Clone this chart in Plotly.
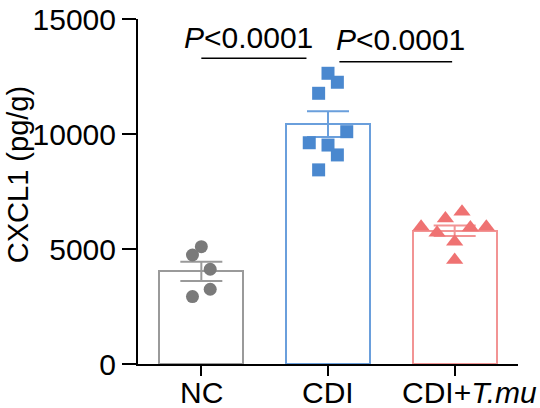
import numpy as np
import plotly.graph_objects as go

# ---- data ----
categories = ["NC", "CDI", "CDI+T.mu"]
tick_labels = ["NC", "CDI", "CDI+<i>T.mu</i>"]
nc_values = [5100, 4740, 4120, 3250, 2930]
cdi_values = [12640, 12250, 11770, 10100, 9620, 9520, 9090, 8440]
tmu_values = [6620, 6330, 5970, 5970, 5940, 5710, 5320, 4520]
y_ticks = [0, 5000, 10000, 15000]
p_labels = ["<i>P</i><0.0001", "<i>P</i><0.0001"]

# ---- layout helpers (positions, not data) ----
nc_jitter = [0.0, -0.07, 0.07, 0.07, -0.07]
cdi_jitter = [0.0, 0.074, -0.074, 0.148, -0.148, 0.0, 0.074, -0.074]
tmu_jitter = [0.058, -0.073, -0.265, 0.25, 0.124, -0.139, 0.0, 0.0]
label_xshift = [0, 0, 15]
bracket_spans = [(0.0, 0.83, 13290), (1.09, 1.98, 13140)]
p_label_pos = [(0.37, 14180), (1.575, 14090)]

groups = [nc_values, cdi_values, tmu_values]
jitters = [nc_jitter, cdi_jitter, tmu_jitter]
bar_colors = ["#9a9a9a", "#6a9fdc", "#f29494"]
pt_colors = ["#7a7a7a", "#4a88cf", "#ef7272"]
symbols = ["circle", "square", "triangle-up"]
sizes = [13, 13, 15]

FONT = "Liberation Sans, Arial, sans-serif"
FS = 30

fig = go.Figure()
for i, (vals, col) in enumerate(zip(groups, bar_colors)):
    v = np.array(vals, dtype=float)
    mean = v.mean()
    sem = v.std(ddof=1) / np.sqrt(len(v))
    fig.add_trace(go.Bar(
        x=[i], y=[mean], width=0.663,
        marker=dict(color="rgba(255,255,255,0)", line=dict(color=col, width=2)),
        error_y=dict(type="data", array=[sem], visible=True, color=col,
                     thickness=2, width=21),
        showlegend=False, hoverinfo="skip",
    ))
for i, (vals, jit) in enumerate(zip(groups, jitters)):
    fig.add_trace(go.Scatter(
        x=[i + j for j in jit], y=vals, mode="markers",
        marker=dict(symbol=symbols[i], size=sizes[i], color=pt_colors[i],
                    line=dict(width=0)),
        showlegend=False, cliponaxis=False,
    ))

for (x0, x1, yv) in bracket_spans:
    fig.add_shape(type="line", xref="x", yref="y", x0=x0, x1=x1, y0=yv, y1=yv,
                  line=dict(color="black", width=1.5))
for (xp, yp), txt in zip(p_label_pos, p_labels):
    fig.add_annotation(x=xp, y=yp, xref="x", yref="y", text=txt, showarrow=False,
                       font=dict(family=FONT, size=FS, color="black"),
                       xanchor="center", yanchor="middle")

# category labels under the axis
for i, (txt, xs) in enumerate(zip(tick_labels, label_xshift)):
    fig.add_annotation(x=i, y=0, xref="x", yref="paper", text=txt, showarrow=False,
                       xshift=xs, yshift=-28,
                       font=dict(family=FONT, size=FS, color="black"),
                       xanchor="center", yanchor="middle")

fig.add_annotation(x=-0.316, y=0.55, xref="paper", yref="paper",
                   text="CXCL1 (pg/g)", textangle=-90, showarrow=False,
                   font=dict(family=FONT, size=29, color="black"),
                   xanchor="center", yanchor="middle", borderpad=0)

fig.update_layout(
    width=540, height=408, autosize=False,
    margin=dict(l=138, r=22, t=19, b=44, pad=0),
    paper_bgcolor="white", plot_bgcolor="white",
    font=dict(family=FONT, size=FS, color="black"),
    xaxis=dict(range=[-0.5, 2.5], tickmode="array", tickvals=[0, 1, 2],
               showticklabels=False, showline=True, linecolor="black", linewidth=2,
               ticks="outside", ticklen=10, tickwidth=2, tickcolor="black",
               showgrid=False, zeroline=False, fixedrange=True, automargin=False),
    yaxis=dict(range=[0, 15000], tickmode="array", tickvals=y_ticks,
               ticktext=[str(t) for t in y_ticks], showline=True, linecolor="black",
               linewidth=2, ticks="outside", ticklen=14, tickwidth=2,
               tickcolor="black", showgrid=False, zeroline=False, fixedrange=True,
               automargin=False, ticklabeloverflow="allow",
               tickfont=dict(family=FONT, size=FS, color="black")),
    bargap=0,
)
# remove the default 8px page margin so the figure fills the window exactly
fig.write_html(
    "out.html",
    config={"displayModeBar": False},
    post_script="document.body.style.margin='0';"
                "document.documentElement.style.overflow='hidden';",
)
